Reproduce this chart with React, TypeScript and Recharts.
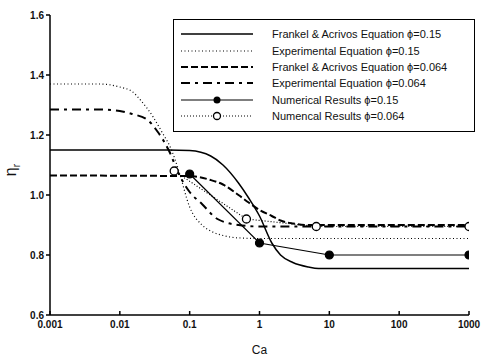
import React from 'react';
import { LineChart, Line, XAxis, YAxis } from 'recharts';

// Ca values (log scale) and relative viscosity readings
const faCa015 = [0.001, 0.01, 0.05, 0.1, 0.2, 0.3, 0.5, 0.7, 1, 1.5, 2, 3, 5, 7, 10, 1000];
const faEta015 = [1.15, 1.15, 1.15, 1.148, 1.13, 1.1, 1.04, 0.99, 0.93, 0.84, 0.8, 0.775, 0.76, 0.755, 0.755, 0.755];

const expCa015 = [0.001, 0.005, 0.01, 0.015, 0.02, 0.03, 0.04, 0.055, 0.07, 0.1, 0.15, 0.2, 0.3, 0.5, 1, 1000];
const expEta015 = [1.37, 1.37, 1.36, 1.345, 1.315, 1.26, 1.21, 1.15, 1.08, 0.96, 0.9, 0.88, 0.865, 0.857, 0.855, 0.855];

const faCa064 = [0.001, 0.1, 0.2, 0.3, 0.5, 0.7, 1, 1.5, 2, 3, 5, 1000];
const faEta064 = [1.065, 1.063, 1.05, 1.035, 1.0, 0.975, 0.95, 0.93, 0.915, 0.905, 0.9, 0.9];

const expCa064 = [0.001, 0.005, 0.01, 0.015, 0.025, 0.035, 0.05, 0.07, 0.1, 0.15, 0.25, 0.5, 1, 1000];
const expEta064 = [1.285, 1.285, 1.28, 1.27, 1.25, 1.21, 1.15, 1.07, 1.01, 0.97, 0.92, 0.9, 0.895, 0.895];

const numCa015 = [0.1, 1, 10, 1000];
const numEta015 = [1.07, 0.84, 0.8, 0.8];

const numCa064 = [0.06, 0.65, 6.5, 1000];
const numEta064 = [1.08, 0.92, 0.895, 0.895];

const xTicks = [0.001, 0.01, 0.1, 1, 10, 100, 1000];
const yTicks = [0.6, 0.8, 1.0, 1.2, 1.4, 1.6];

const toRows = (xs: number[], ys: number[]) => xs.map((ca, i) => ({ ca, eta: ys[i] }));

const series = [
  { name: 'Frankel & Acrivos Equation \u03d5=0.15', data: toRows(faCa015, faEta015), dash: undefined, width: 1.5, dot: null },
  { name: 'Experimental Equation \u03d5=0.15', data: toRows(expCa015, expEta015), dash: '1 2.5', width: 1.2, dot: null },
  { name: 'Frankel & Acrivos Equation \u03d5=0.064', data: toRows(faCa064, faEta064), dash: '7 3', width: 2, dot: null },
  { name: 'Experimental Equation \u03d5=0.064', data: toRows(expCa064, expEta064), dash: '9 5 3 5', width: 2, dot: null },
  { name: 'Numerical Results \u03d5=0.15', data: toRows(numCa015, numEta015), dash: undefined, width: 1.2, dot: 'filled' },
  { name: 'Numencal Results \u03d5=0.064', data: toRows(numCa064, numEta064), dash: '1 2', width: 1.2, dot: 'open' },
];

const FONT = 'Liberation Sans, Arial, sans-serif';
const fmtX = (v: number) => String(v);
const fmtY = (v: number) => v.toFixed(1);

function LegendBox() {
  return (
    <div style={{ position: 'absolute', left: 173, top: 19, width: 302, border: '1.5px solid #000', background: '#fff', padding: '6px 0 7px 6px', fontFamily: FONT, fontSize: 11, color: '#111', boxSizing: 'border-box' }}>
      {series.map((s) => (
        <div key={s.name} style={{ display: 'flex', alignItems: 'center', height: 16.4 }}>
          <svg width={92} height={12} style={{ flex: 'none' }}>
            <line x1={1} y1={6} x2={73} y2={6} stroke="#000" strokeWidth={s.width} strokeDasharray={s.dash} />
            {s.dot === 'filled' && <circle cx={37} cy={6} r={3.5} fill="#000" />}
            {s.dot === 'open' && <circle cx={37} cy={6} r={3.5} fill="#fff" stroke="#000" strokeWidth={1.3} />}
          </svg>
          <span style={{ whiteSpace: 'nowrap' }}>{s.name}</span>
        </div>
      ))}
    </div>
  );
}

function EtaLabel() {
  return (
    <text x={16} y={170} transform="rotate(-90 16 170)" textAnchor="middle" fontSize={16} fontFamily={FONT} fill="#111">
      {'\u03b7'}
      <tspan fontSize={10} dy={4}>r</tspan>
    </text>
  );
}

export default function App() {
  return (
    <div style={{ position: 'absolute', left: 0, top: 0, width: 483, height: 360, background: '#fff' }}>
      <LineChart width={483} height={360} margin={{ top: 15, right: 14, bottom: 15, left: 0 }}>
        <XAxis
          dataKey="ca"
          type="number"
          scale="log"
          domain={[0.001, 1000]}
          ticks={xTicks}
          tickFormatter={fmtX}
          allowDataOverflow
          height={30}
          stroke="#000"
          strokeWidth={1.5}
          tickSize={-4}
          tickMargin={10}
          tick={{ fontSize: 10, fill: '#111', fontFamily: FONT, fontWeight: 'bold' }}
          label={{ value: 'Ca', position: 'insideBottom', offset: -9, fontSize: 12, fill: '#111', fontFamily: FONT }}
        />
        <YAxis
          type="number"
          domain={[0.6, 1.6]}
          ticks={yTicks}
          tickFormatter={fmtY}
          width={50}
          stroke="#000"
          strokeWidth={1.5}
          tickSize={4}
          tick={{ fontSize: 10, fill: '#111', fontFamily: FONT, fontWeight: 'bold' }}
          label={<EtaLabel />}
        />
        <XAxis xAxisId="top" orientation="top" type="number" scale="log" domain={[0.001, 1000]} ticks={[]} height={0} stroke="#000" strokeWidth={1.5} />
        <YAxis yAxisId="right" orientation="right" domain={[0.6, 1.6]} ticks={[]} width={0} stroke="#000" strokeWidth={1.5} />
        {series.map((s) => (
          <Line
            key={s.name}
            data={s.data}
            dataKey="eta"
            name={s.name}
            type={s.dot ? 'linear' : 'monotone'}
            stroke="#000"
            strokeWidth={s.width}
            strokeDasharray={s.dash}
            dot={s.dot === 'filled' ? { r: 4, fill: '#000', stroke: '#000' } : s.dot === 'open' ? { r: 4, fill: '#fff', stroke: '#000', strokeWidth: 1.3, strokeDasharray: '' } : false}
            isAnimationActive={false}
          />
        ))}
      </LineChart>
      <LegendBox />
    </div>
  );
}
